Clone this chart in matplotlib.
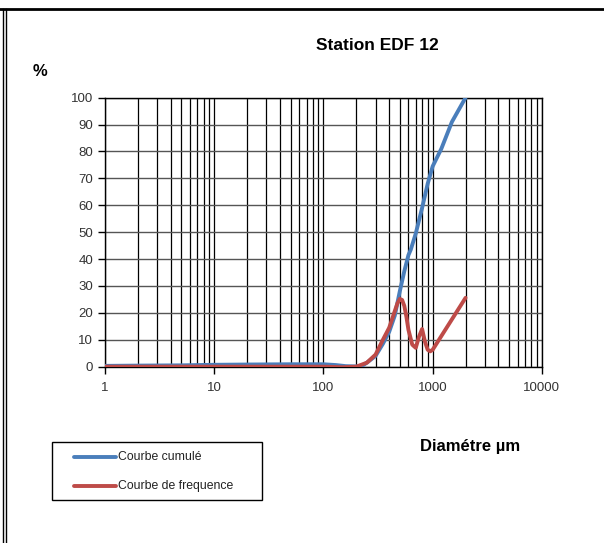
import matplotlib
matplotlib.use("Agg")
import matplotlib.pyplot as plt
from matplotlib.lines import Line2D
from matplotlib.patches import Rectangle
from matplotlib.ticker import FixedLocator, NullFormatter, LogLocator

plt.rcParams["font.family"] = ["Liberation Sans", "DejaVu Sans"]

# Courbe cumulée (diamètre en µm, % passant)
cum_d = [1, 2, 5, 10, 20, 50, 100, 130, 160, 200, 230, 250, 300, 350, 400,
         450, 500, 550, 600, 630, 700, 800, 900, 1000, 1200, 1500, 2000]
cum_pct = [0.3, 0.4, 0.5, 0.7, 0.8, 0.9, 0.9, 0.6, 0.2, 0.1, 0.5, 1.5, 4.0,
           8.5, 13.0, 19.0, 28.0, 35.5, 41.5, 43.5, 49.5, 59.0, 68.0, 74.5,
           81.0, 91.0, 100.0]

# Courbe de fréquence
freq_d = [1, 10, 100, 150, 200, 250, 300, 350, 400, 450, 475, 500, 525, 550,
          575, 600, 650, 700, 750, 800, 850, 900, 950, 1000, 2000]
freq_pct = [0.0, 0.0, 0.0, -0.2, 0.0, 1.5, 4.5, 10.0, 14.5, 20.7, 23.5, 25.2,
            24.8, 22.6, 18.5, 13.7, 8.2, 7.0, 11.2, 14.0, 9.3, 6.3, 5.7, 6.3,
            25.6]

title = "Station EDF 12"
x_label = "Diamétre µm"
y_label = "%"
series_names = ["Courbe cumulé", "Courbe de frequence"]
colors = ["#4a7ebb", "#be4b48"]

W, H = 604, 543
fig = plt.figure(figsize=(W / 100, H / 100), dpi=100)
ax = fig.add_axes([0.1738, 0.3247, 0.7234, 0.4954])

ax.plot(cum_d, cum_pct, color=colors[0], lw=2.8, solid_joinstyle="round",
        solid_capstyle="round", zorder=3)
ax.plot(freq_d, freq_pct, color=colors[1], lw=2.8, solid_joinstyle="round",
        solid_capstyle="round", zorder=4)

ax.set_xscale("log")
ax.set_xlim(1, 10000)
ax.set_ylim(0, 100)
ax.set_yticks(range(0, 101, 10))
ax.xaxis.set_major_locator(FixedLocator([1, 10, 100, 1000, 10000]))
ax.set_xticklabels(["1", "10", "100", "1000", "10000"])
ax.xaxis.set_minor_locator(LogLocator(base=10, subs=range(2, 10)))
ax.xaxis.set_minor_formatter(NullFormatter())
ax.tick_params(axis="x", which="minor", length=0)
ax.tick_params(axis="both", which="major", length=5, width=1, color="black",
               labelsize=9.5, labelcolor="#333333", direction="out")
ax.tick_params(axis="x", pad=6)

ax.grid(True, which="major", axis="y", color="#555555", lw=1)
ax.grid(True, which="both", axis="x", color="black", lw=0.9)
ax.set_axisbelow(True)
for s in ax.spines.values():
    s.set_color("black")
    s.set_linewidth(1)

fig.text(0.624, 0.917, title, fontsize=12.5, fontweight="bold",
         ha="center", va="center")
fig.text(0.066, 0.868, y_label, fontsize=12, fontweight="bold",
         ha="center", va="center")
fig.text(0.778, 0.177, x_label, fontsize=12, fontweight="bold",
         ha="center", va="center")


def px(x, y):
    return x / W, 1 - y / H


# legend drawn by hand so the box has the reference's width
x0, y0 = px(52, 500)
x1, y1 = px(262, 442)
fig.add_artist(Rectangle((x0, y0), x1 - x0, y1 - y0, transform=fig.transFigure,
                         facecolor="white", edgecolor="black", lw=1))
for name, c, yy in zip(series_names, colors, [456.7, 486]):
    a, b = px(74, yy)
    e, _ = px(116, yy)
    fig.add_artist(Line2D([a, e], [b, b], color=c, lw=2.8,
                          solid_capstyle="round", transform=fig.transFigure))
    fig.text(px(118, yy)[0], b, name, fontsize=8.8, ha="left", va="center",
             color="#222222")

# outer frame (top and double left line)
fig.add_artist(Line2D([0, 1], [1 - 9 / H, 1 - 9 / H], color="black",
                      lw=2, transform=fig.transFigure))
fig.add_artist(Line2D([2.5 / W, 2.5 / W], [0, 1 - 9 / H], color="black",
                      lw=1, transform=fig.transFigure))
fig.add_artist(Line2D([5.5 / W, 5.5 / W], [0, 1 - 9 / H], color="black",
                      lw=1, transform=fig.transFigure))

fig.savefig("out.png", dpi=100)
